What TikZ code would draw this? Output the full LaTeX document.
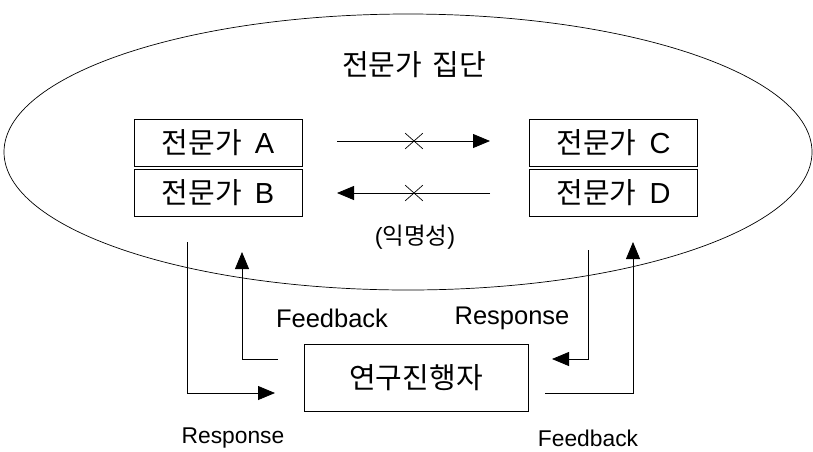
\documentclass[tikz,border=0pt]{standalone}
\usepackage{fontspec}
\setmainfont{Liberation Sans}
\newfontfamily\kr{Noto Sans CJK KR}
\usepackage{tikz}
\usetikzlibrary{arrows.meta,shapes.misc}

\begin{document}
\begin{tikzpicture}[x=1pt, y=-1pt, line width=0.8pt,
    every node/.style={font=\fontsize{25.5}{27}\selectfont},
    bx/.style={draw, line width=0.9pt, inner sep=0pt, minimum width=168pt, minimum height=47pt, font=\fontsize{29}{31}\selectfont},
    xm/.style={cross out, draw, line width=0.7pt, inner sep=0pt, minimum width=17pt, minimum height=15pt},
    ar/.style={-{Triangle[length=17pt,width=14pt]}}]
\useasboundingbox (0,0) rectangle (813,451);
% 전문가 집단
\draw[line width=0.7pt] (408,152) ellipse (404 and 138);
\node (grp) at (414,65) {\fontsize{29}{31}\selectfont\kr 전문가\hspace{0.35em}집단};
\foreach \n/\px/\py/\lab in {ea/218/142.5/A, eb/218/192.5/B, ec/613.5/143/C, ed/613.5/193/D} {
    \node[bx] (\n) at (\px,\py) {{\kr 전문가}\hspace{0.45em}\lab};
}
\node[bx, minimum width=224pt, minimum height=67pt] (res) at (416,377.5) {\kr 연구진행자};
% 익명성
\coordinate (ab1) at (337,141); \coordinate (ab2) at (490,141);
\coordinate (cd1) at (490,193); \coordinate (cd2) at (337,193);
\draw[ar] (ab1) -- (ab2);
\draw[ar] (cd1) -- (cd2);
\node[xm] (x1) at (414,141) {};
\node[xm] (x2) at (414,193) {};
\node[font=\fontsize{23.5}{25}\selectfont] (anon) at (415,237) {({\kr 익명성})};
% response / feedback
\coordinate (r1) at (187,242); \coordinate (r2) at (275,393);
\coordinate (f1) at (278,359); \coordinate (f2) at (242,252);
\coordinate (r3) at (588,250); \coordinate (r4) at (552,359);
\coordinate (f3) at (545,393); \coordinate (f4) at (633,242);
\draw[ar] (r1) |- (r2);
\draw[ar] (f1) -| (f2);
\draw[ar] (r3) |- (r4);
\draw[ar] (f3) -| (f4);
\node (fb1) at (332,318) {Feedback};
\node (rp1) at (512,318) {Response};
\node[font=\fontsize{22.8}{24}\selectfont] (rp2) at (233,438) {Response};
\node[font=\fontsize{22.8}{24}\selectfont] (fb2) at (588,438) {Feedback};
\end{tikzpicture}
\end{document}
